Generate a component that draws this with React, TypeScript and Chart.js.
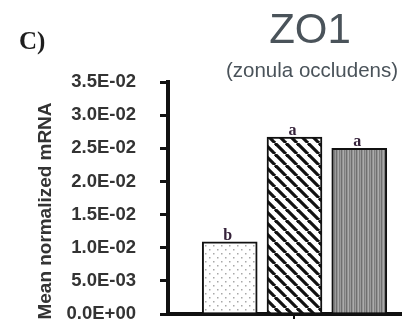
import { useEffect, useRef } from 'react';
import { Chart, registerables } from 'chart.js';

Chart.register(...registerables);

// Mean normalized ZO1 mRNA for the three groups
const groups = [1, 2, 3];
const meanMRNA = [0.0109, 0.0267, 0.025];
const groupLetters = ['b', 'a', 'a'];

const yTicks = [0, 0.005, 0.01, 0.015, 0.02, 0.025, 0.03, 0.035];
const yTickLabels = ['0.0E+00', '5.0E-03', '1.0E-02', '1.5E-02', '2.0E-02', '2.5E-02', '3.0E-02', '3.5E-02'];

const panelLabel = 'C)';
const geneName = 'ZO1';
const geneFullName = '(zonula occludens)';
const yTitle = 'Mean normalized mRNA';

const SANS = '"Liberation Sans", Arial, Helvetica, sans-serif';
const SERIF = '"Liberation Serif", "Times New Roman", serif';

function makeTile(w: number, h: number, paint: (c: CanvasRenderingContext2D) => void) {
  const tile = document.createElement('canvas');
  tile.width = w;
  tile.height = h;
  const c = tile.getContext('2d')!;
  paint(c);
  return c.createPattern(tile, 'repeat')!;
}

function dottedFill() {
  return makeTile(8, 8, (c) => {
    c.fillStyle = '#ffffff';
    c.fillRect(0, 0, 8, 8);
    c.fillStyle = '#a8a8a8';
    c.fillRect(1, 1, 1.5, 1.5);
    c.fillRect(5, 5, 1.5, 1.5);
  });
}

function hatchFill() {
  const p = 11;
  return makeTile(p, p, (c) => {
    c.fillStyle = '#ffffff';
    c.fillRect(0, 0, p, p);
    c.strokeStyle = '#111111';
    c.lineWidth = 3.2;
    for (const k of [-p, 0, p]) {
      c.beginPath();
      c.moveTo(k, 0);
      c.lineTo(k + p, p);
      c.stroke();
    }
  });
}

function verticalLineFill() {
  const cols = ['#9a9a9a', '#6f6f6f', '#949494', '#ababab', '#7f7f7f'];
  return makeTile(cols.length, 2, (c) => {
    cols.forEach((col, i) => {
      c.fillStyle = col;
      c.fillRect(i, 0, 1, 2);
    });
  });
}

const textPlugin = {
  id: 'figureText',
  afterDatasetsDraw(chart: any) {
    const ctx = chart.ctx as CanvasRenderingContext2D;
    const meta = chart.getDatasetMeta(0);
    ctx.save();
    ctx.fillStyle = '#35223a';
    ctx.font = `bold 16px ${SERIF}`;
    ctx.textAlign = 'center';
    ctx.textBaseline = 'alphabetic';
    meta.data.forEach((bar: any, i: number) => {
      ctx.fillText(groupLetters[i], bar.x - 2, bar.y - 2);
    });
    ctx.restore();
  },
  afterDraw(chart: any) {
    const ctx = chart.ctx as CanvasRenderingContext2D;
    ctx.save();
    // panel letter
    ctx.fillStyle = '#1e1e1e';
    ctx.font = `bold 25px ${SERIF}`;
    ctx.textAlign = 'left';
    ctx.textBaseline = 'alphabetic';
    ctx.fillText(panelLabel, 19, 49);

    // gene heading
    ctx.fillStyle = '#4a535a';
    ctx.textAlign = 'center';
    ctx.font = `42px ${SANS}`;
    ctx.fillText(geneName, 310, 43);
    ctx.font = `20.5px ${SANS}`;
    ctx.fillText(geneFullName, 312, 77);

    // y-axis title, stretched along its length to span 217px
    ctx.fillStyle = '#333333';
    ctx.font = `bold 18px ${SANS}`;
    const w = ctx.measureText(yTitle).width;
    ctx.translate(51, 211);
    ctx.rotate(-Math.PI / 2);
    ctx.scale(217 / w, 1);
    ctx.fillText(yTitle, 0, 0);
    ctx.restore();
  },
};

export default function App() {
  const canvasRef = useRef<HTMLCanvasElement | null>(null);

  useEffect(() => {
    const canvas = canvasRef.current;
    if (!canvas) return;
    const chart = new Chart(canvas, {
      type: 'bar',
      data: {
        datasets: [
          {
            data: groups.map((g, i) => ({ x: g, y: meanMRNA[i] })),
            backgroundColor: [dottedFill(), hatchFill(), verticalLineFill()],
            borderColor: '#111111',
            borderWidth: 2,
            borderSkipped: 'bottom',
            barThickness: 55,
          },
        ],
      },
      options: {
        animation: false,
        responsive: false,
        devicePixelRatio: 1,
        events: [],
        layout: { padding: { top: 82, left: 0, right: 0, bottom: 0 } },
        plugins: {
          legend: { display: false },
          tooltip: { enabled: false },
          title: { display: false },
        },
        scales: {
          x: {
            type: 'linear',
            min: 0.047,
            max: 3.66,
            offset: false,
            border: { display: true, color: '#111111', width: 4 },
            grid: {
              offset: false,
              drawOnChartArea: false,
              drawTicks: true,
              tickLength: 5,
              lineWidth: 2,
              color: '#111111',
            },
            ticks: { display: false },
            afterBuildTicks: (scale: any) => {
              scale.ticks = [{ value: 2 }];
            },
            afterFit: (scale: any) => {
              scale.height = 8;
            },
          },
          y: {
            min: 0,
            max: 0.035,
            border: { display: true, color: '#111111', width: 4 },
            grid: {
              drawOnChartArea: false,
              drawTicks: true,
              tickLength: 8,
              lineWidth: 3,
              tickWidth: 3,
              color: '#111111',
              tickColor: '#111111',
            },
            ticks: {
              padding: 24,
              color: '#333333',
              font: { family: SANS, size: 18.5, weight: 'bold' },
              callback: (value: any) => {
                const idx = yTicks.findIndex((t) => Math.abs(t - Number(value)) < 1e-9);
                return idx >= 0 ? yTickLabels[idx] : '';
              },
            },
            afterBuildTicks: (scale: any) => {
              scale.ticks = yTicks.map((v) => ({ value: v }));
            },
            afterFit: (scale: any) => {
              scale.width = 168;
              // labels may overhang the plot ends; keep them from shrinking the plot area
              scale.paddingTop = 0;
              scale.paddingBottom = 0;
            },
          },
        },
      },
      plugins: [textPlugin],
    } as any);
    return () => chart.destroy();
  }, []);

  return (
    <div style={{ position: 'absolute', left: 0, top: 0, width: 402, height: 322, overflow: 'hidden', background: '#ffffff' }}>
      <canvas ref={canvasRef} width={402} height={322} style={{ display: 'block' }} />
    </div>
  );
}
